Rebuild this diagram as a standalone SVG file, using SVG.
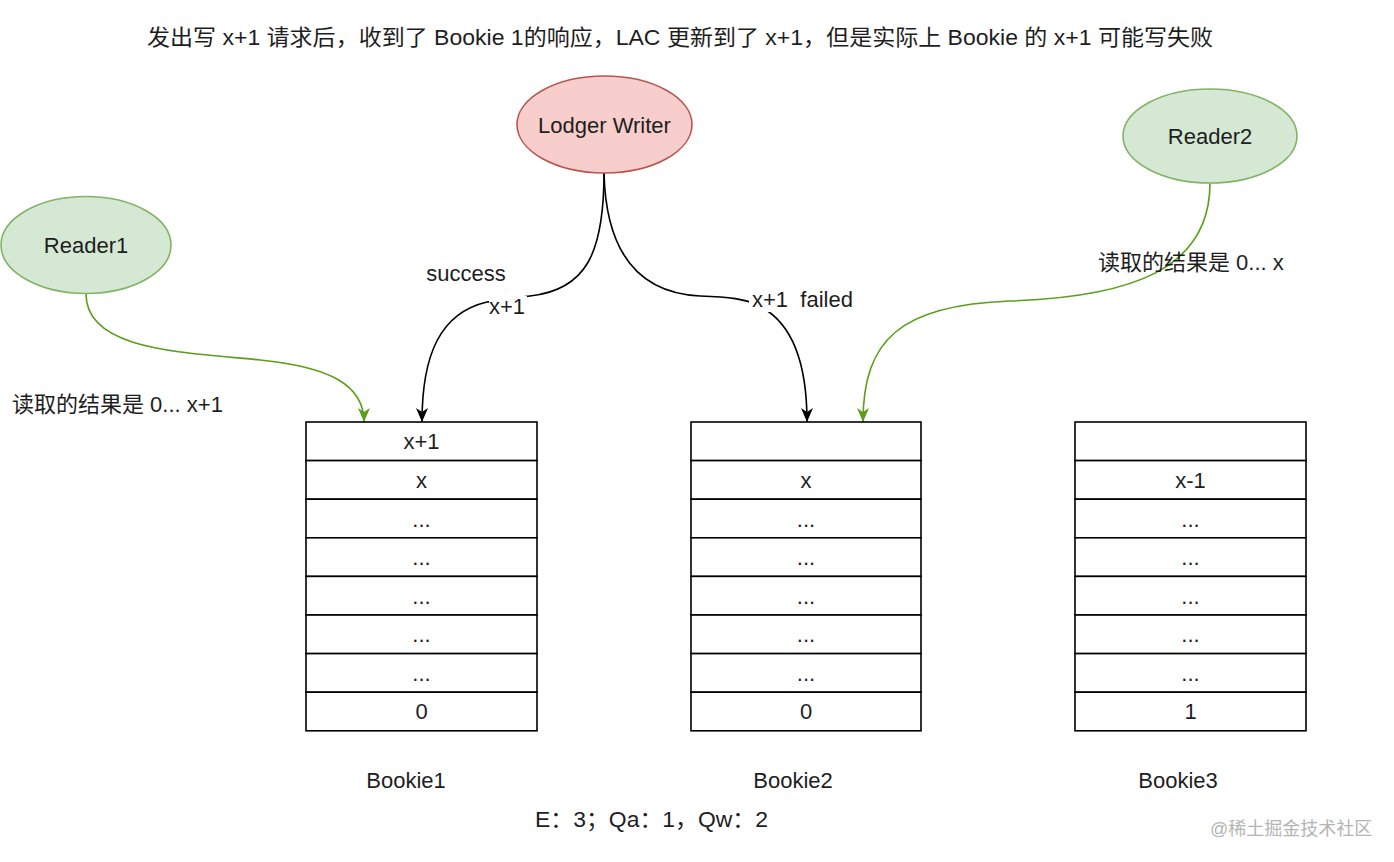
<svg xmlns="http://www.w3.org/2000/svg" width="1394" height="862" viewBox="0 0 1394 862">
<style>
text{font-family:"Liberation Sans","Noto Sans CJK SC",sans-serif;font-size:22px;fill:#1e1e1e}
.c{text-anchor:middle}
.cell{fill:#fff;stroke:#000;stroke-width:1.6}
.edge{fill:none;stroke:#000;stroke-width:1.6}
.g{fill:none;stroke:#5a9e1a;stroke-width:1.6}
.wm{font-size:18px;fill:#b4b4b4}
</style>
<defs>
<marker id="ab" viewBox="0 0 14 14" refX="14" refY="7" markerWidth="14" markerHeight="14" markerUnits="userSpaceOnUse" orient="auto">
<path d="M0,1 L14,7 L0,13 L4,7 z" fill="#000"/>
</marker>
<marker id="ag" viewBox="0 0 14 14" refX="14" refY="7" markerWidth="14" markerHeight="14" markerUnits="userSpaceOnUse" orient="auto">
<path d="M0,1 L14,7 L0,13 L4,7 z" fill="#5a9e1a"/>
</marker>
</defs>
<rect width="1394" height="862" fill="#fff"/>
<text id="title" x="147" y="45" textLength="1066" lengthAdjust="spacingAndGlyphs">发出写 x+1 请求后，收到了 Bookie 1的响应，LAC 更新到了 x+1，但是实际上 Bookie 的 x+1 可能写失败</text>

<g id="connectors">
<path class="edge" d="M604,173 C604,255 585,290 530,296 C505,299 495,301 487,302 C440,313 422,355 422,422" marker-end="url(#ab)"/>
<path class="edge" d="M604,173 C606,255 640,293 700,296 C730,297 745,299 757,305 C790,320 807,360 807,422" marker-end="url(#ab)"/>
<path class="g" d="M86,294 C86,350 180,352 260,360 C330,367 364,385 364,422" marker-end="url(#ag)"/>
<path class="g" d="M1210,183 C1210,270 1130,297 1010,301 C900,305 863,340 863,422" marker-end="url(#ag)"/>
<text class="c" x="466" y="281">success</text>
<rect x="489" y="296" width="38" height="22" fill="#fff"/>
<text class="c" x="507" y="314">x+1</text>
<rect x="749" y="288" width="112" height="24" fill="#fff"/>
<text x="752" y="307" xml:space="preserve">x+1  failed</text>
<text x="12" y="412">读取的结果是 0... x+1</text>
<text x="1098" y="270">读取的结果是 0... x</text>
</g>

<g id="writer">
<ellipse cx="604.5" cy="124.5" rx="87.5" ry="48.5" fill="#f8cecc" stroke="#b85450" stroke-width="1.6"/>
<text class="c" x="604.5" y="133">Lodger Writer</text>
</g>
<g id="reader1">
<ellipse cx="86" cy="245" rx="85" ry="48.5" fill="#d5e8d4" stroke="#82b366" stroke-width="1.6"/>
<text class="c" x="86" y="253">Reader1</text>
</g>
<g id="reader2">
<ellipse cx="1210" cy="136" rx="87" ry="47" fill="#d5e8d4" stroke="#82b366" stroke-width="1.6"/>
<text class="c" x="1210" y="144">Reader2</text>
</g>

<g id="bookie1">
<rect class="cell" x="306" y="422" width="231" height="38.6"/>
<rect class="cell" x="306" y="460.6" width="231" height="38.6"/>
<rect class="cell" x="306" y="499.2" width="231" height="38.6"/>
<rect class="cell" x="306" y="537.8" width="231" height="38.6"/>
<rect class="cell" x="306" y="576.4" width="231" height="38.6"/>
<rect class="cell" x="306" y="615" width="231" height="38.6"/>
<rect class="cell" x="306" y="653.6" width="231" height="38.6"/>
<rect class="cell" x="306" y="692.2" width="231" height="38.6"/>
<text class="c" x="421.5" y="449">x+1</text>
<text class="c" x="421.5" y="488">x</text>
<text class="c" x="421.5" y="527">...</text>
<text class="c" x="421.5" y="565">...</text>
<text class="c" x="421.5" y="604">...</text>
<text class="c" x="421.5" y="642">...</text>
<text class="c" x="421.5" y="681">...</text>
<text class="c" x="421.5" y="719">0</text>
<text class="c" x="406" y="788">Bookie1</text>
</g>

<g id="bookie2">
<rect class="cell" x="691" y="422" width="230" height="38.6"/>
<rect class="cell" x="691" y="460.6" width="230" height="38.6"/>
<rect class="cell" x="691" y="499.2" width="230" height="38.6"/>
<rect class="cell" x="691" y="537.8" width="230" height="38.6"/>
<rect class="cell" x="691" y="576.4" width="230" height="38.6"/>
<rect class="cell" x="691" y="615" width="230" height="38.6"/>
<rect class="cell" x="691" y="653.6" width="230" height="38.6"/>
<rect class="cell" x="691" y="692.2" width="230" height="38.6"/>
<text class="c" x="806" y="488">x</text>
<text class="c" x="806" y="527">...</text>
<text class="c" x="806" y="565">...</text>
<text class="c" x="806" y="604">...</text>
<text class="c" x="806" y="642">...</text>
<text class="c" x="806" y="681">...</text>
<text class="c" x="806" y="719">0</text>
<text class="c" x="793" y="788">Bookie2</text>
</g>

<g id="bookie3">
<rect class="cell" x="1075" y="422" width="231" height="38.6"/>
<rect class="cell" x="1075" y="460.6" width="231" height="38.6"/>
<rect class="cell" x="1075" y="499.2" width="231" height="38.6"/>
<rect class="cell" x="1075" y="537.8" width="231" height="38.6"/>
<rect class="cell" x="1075" y="576.4" width="231" height="38.6"/>
<rect class="cell" x="1075" y="615" width="231" height="38.6"/>
<rect class="cell" x="1075" y="653.6" width="231" height="38.6"/>
<rect class="cell" x="1075" y="692.2" width="231" height="38.6"/>
<text class="c" x="1190.5" y="488">x-1</text>
<text class="c" x="1190.5" y="527">...</text>
<text class="c" x="1190.5" y="565">...</text>
<text class="c" x="1190.5" y="604">...</text>
<text class="c" x="1190.5" y="642">...</text>
<text class="c" x="1190.5" y="681">...</text>
<text class="c" x="1190.5" y="719">1</text>
<text class="c" x="1178" y="788">Bookie3</text>
</g>

<text id="config" x="535" y="827" textLength="233" lengthAdjust="spacingAndGlyphs">E：3；Qa：1，Qw：2</text>
<text id="watermark" class="wm" x="1210" y="835">@稀土掘金技术社区</text>
</svg>
